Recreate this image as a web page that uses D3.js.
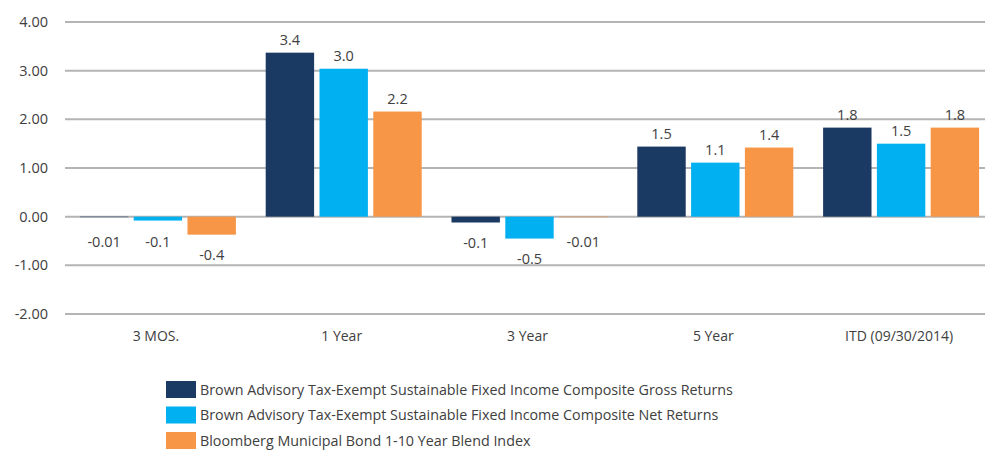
<!DOCTYPE html>
<html>
<head>
    <meta charset="utf-8">
    <script src="https://d3js.org/d3.v7.min.js"></script>
    <style>
        body { margin: 0; background: #fff; }
        text { font-family: "Open Sans", sans-serif; fill: #404040; }
    </style>
</head>
<body>
<svg id="chart" width="985" height="450"></svg>
<script>
    const categories = ["3 MOS.", "1 Year", "3 Year", "5 Year", "ITD (09/30/2014)"];
    const seriesNames = [
        "Brown Advisory Tax-Exempt Sustainable Fixed Income Composite Gross Returns",
        "Brown Advisory Tax-Exempt Sustainable Fixed Income Composite Net Returns",
        "Bloomberg Municipal Bond 1-10 Year Blend Index"
    ];
    const gross = [-0.01, 3.37, -0.12, 1.44, 1.83];
    const net = [-0.08, 3.04, -0.45, 1.11, 1.50];
    const index = [-0.37, 2.16, -0.01, 1.42, 1.83];
    const grossLabels = ["-0.01", "3.4", "-0.1", "1.5", "1.8"];
    const netLabels = ["-0.1", "3.0", "-0.5", "1.1", "1.5"];
    const indexLabels = ["-0.4", "2.2", "-0.01", "1.4", "1.8"];
    const yTicks = [-2, -1, 0, 1, 2, 3, 4];
    const colors = ["#1b3a63", "#00b0f0", "#f79646"];

    const series = [
        { values: gross, labels: grossLabels },
        { values: net, labels: netLabels },
        { values: index, labels: indexLabels }
    ];

    const svg = d3.select("#chart");
    const left = 65, right = 994;

    const x = d3.scaleBand().domain(categories).range([left, right]);
    const x1 = d3.scaleBand().domain([0, 1, 2]).range([0, 156]).paddingInner(0.1);
    const y = d3.scaleLinear().domain([-2, 4]).range([314, 22]);
    const groupX = (j, i) => x(categories[j]) + (x.bandwidth() - 156) / 2 + x1(i);

    // grid
    svg.append("g").selectAll("line")
        .data(yTicks)
        .enter().append("line")
        .attr("x1", left).attr("x2", right)
        .attr("y1", d => y(d)).attr("y2", d => y(d))
        .attr("stroke", "#b4b4b4").attr("stroke-width", 2);

    svg.append("g").selectAll("text")
        .data(yTicks)
        .enter().append("text")
        .attr("x", 48).attr("y", d => y(d))
        .attr("dy", "0.35em")
        .attr("text-anchor", "end")
        .style("font-size", "14.5px")
        .text(d => d.toFixed(2));

    // bars
    series.forEach(function(s, i) {
        const g = svg.append("g");
        g.selectAll("rect")
            .data(s.values)
            .enter().append("rect")
            .attr("x", (d, j) => groupX(j, i))
            .attr("width", x1.bandwidth())
            .attr("y", d => d >= 0 ? y(d) : y(0))
            .attr("height", d => Math.abs(y(d) - y(0)))
            .attr("fill", colors[i]);

        g.selectAll("text")
            .data(s.values)
            .enter().append("text")
            .attr("x", (d, j) => groupX(j, i) + x1.bandwidth() / 2)
            .attr("y", d => d >= 0 ? y(d) - 13 : Math.max(y(d) + 20, y(0) + 25))
            .attr("dy", "0.35em")
            .attr("text-anchor", "middle")
            .style("font-size", "14.5px")
            .text((d, j) => s.labels[j]);
    });

    // category labels
    svg.append("g").selectAll("text")
        .data(categories)
        .enter().append("text")
        .attr("x", d => x(d) + x.bandwidth() / 2 - 2)
        .attr("y", 336)
        .attr("dy", "0.35em")
        .attr("text-anchor", "middle")
        .style("font-size", "14px")
        .text(d => d);

    // legend
    const legend = svg.append("g").selectAll("g")
        .data(seriesNames)
        .enter().append("g")
        .attr("transform", (d, i) => "translate(166," + (381 + i * 25.5) + ")");
    legend.append("rect")
        .attr("width", 30).attr("height", 17)
        .attr("fill", (d, i) => colors[i]);
    legend.append("text")
        .attr("x", 34).attr("y", 8.5)
        .attr("dy", "0.35em")
        .style("font-size", "14.3px")
        .text(d => d);
</script>
</body>
</html>
